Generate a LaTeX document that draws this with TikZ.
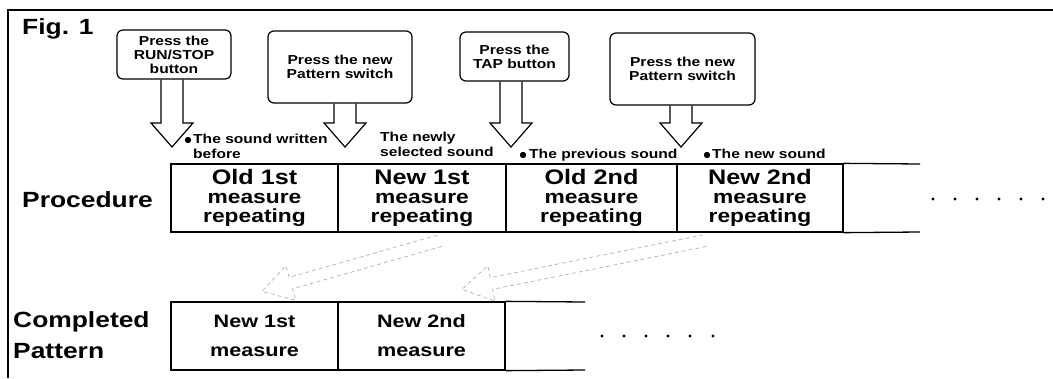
\documentclass[tikz,border=0pt]{standalone}
\usepackage{fontspec}
\setmainfont{Liberation Sans}[FakeStretch=1.2]
\usetikzlibrary{calc}
\tikzset{
  ln/.style={line width=1.3pt},
  pbox/.style={draw, line width=1.2pt, rounded corners=6pt, align=center, inner sep=0pt, font=\bfseries\fontsize{13}{14}\selectfont},
  blk/.style={draw, line width=1.2pt, line join=miter},
  cell/.style={draw, line width=1.3pt, inner sep=0pt, align=center, font=\bfseries\fontsize{19}{19}\selectfont, minimum height=68pt},
  ccell/.style={cell, font=\bfseries\fontsize{18}{29}\selectfont},
  lbl/.style={inner sep=0pt, align=left, anchor=north west, font=\bfseries\fontsize{13}{15}\selectfont},
  head/.style={inner sep=0pt, anchor=west, align=left, font=\bfseries\fontsize{22}{31}\selectfont},
  faint/.style={draw=black!30, line width=0.7pt, dash pattern=on 4pt off 3pt},
}
\newcommand\blkarrow[3]{%
  \coordinate (t#3) at ($(#1.south)+(#2,0)$);
  \coordinate (h#3) at (t#3 |- 0,123);
  \coordinate (p#3) at (t#3 |- 0,147);
  \draw[blk] ([xshift=-11pt]t#3) -- ([xshift=-11pt]h#3) -- ([xshift=-21pt]h#3) -- (p#3) -- ([xshift=21pt]h#3) -- ([xshift=11pt]h#3) -- ([xshift=11pt]t#3);
}
\newcommand\hollowarr[2]{%
  \coordinate (hb) at ($(#2)!30pt!(#1)$);
  \draw[faint] ($(#1)!6pt!90:(#2)$) -- ($(hb)!6pt!90:(#2)$) -- ($(hb)!18pt!90:(#2)$) -- (#2) -- ($(hb)!18pt!-90:(#2)$) -- ($(hb)!6pt!-90:(#2)$) -- ($(#1)!6pt!-90:(#2)$);
}
\begin{document}
\begin{tikzpicture}[x=1pt,y=-1pt]
\useasboundingbox (0,0) rectangle (1053,378);
% frame
\draw[ln] (1053,10) -- (8,10) -- (8,378);
\node[head] (fig) at (22,29) {Fig. 1};
% instruction boxes
\node[pbox, minimum width=114pt, minimum height=49pt] (b1) at (174,54.5) {Press the\\RUN/STOP\\button};
\node[pbox, minimum width=144pt, minimum height=72pt] (b2) at (340,67) {Press the new\\Pattern switch};
\node[pbox, minimum width=109pt, minimum height=49pt] (b3) at (514.5,56.5) {Press the\\TAP button};
\node[pbox, minimum width=145pt, minimum height=72pt] (b4) at (682.5,69) {Press the new\\Pattern switch};
\blkarrow{b1}{-2}{1}
\blkarrow{b2}{5}{2}
\blkarrow{b3}{-3.5}{3}
\blkarrow{b4}{-1.5}{4}
% labels
\fill (188,140) circle (3.2pt);
\node[lbl] (l1) at (193,134) {The sound written\\before};
\node[lbl] (l2) at (380,132) {The newly\\selected sound};
\fill (523,155) circle (3.2pt);
\node[lbl] (l3) at (529,149) {The previous sound};
\fill (707,155) circle (3.2pt);
\node[lbl] (l4) at (712,149) {The new sound};
% procedure row
\node[head] (proc) at (22,200) {Procedure};
\node[cell, minimum width=167pt] (c1) at (254.5,198) {{\fontsize{21}{19}\selectfont Old 1st}\\measure\\repeating};
\node[cell, minimum width=168pt] (c2) at (422,198) {{\fontsize{21}{19}\selectfont New 1st}\\measure\\repeating};
\node[cell, minimum width=171pt] (c3) at (591.5,198) {{\fontsize{21}{19}\selectfont Old 2nd}\\measure\\repeating};
\node[cell, minimum width=166pt] (c4) at (760,198) {{\fontsize{21}{19}\selectfont New 2nd}\\measure\\repeating};
\draw[ln] (c4.north east) -- (920,164);
\draw[ln] (c4.south east) -- (920,232);
\foreach \x in {933,955,977,999,1021,1043} \fill (\x,199) circle (1.6pt);
% completed row
\node[head] (comp) at (13,335) {Completed\\Pattern};
\node[ccell, minimum width=167pt] (d1) at (254.5,336) {New 1st\\measure};
\node[ccell, minimum width=167pt] (d2) at (421.5,336) {New 2nd\\measure};
\draw[ln] (d2.north east) -- (585,302);
\draw[ln] (d2.south east) -- (585,370);
\foreach \x in {602,624,646,668,690,713} \fill (\x,336) circle (1.6pt);
% faint transfer arrows
\coordinate (fa1s) at ($(c2.south)+(18,8)$);
\coordinate (fa1t) at ($(d1.north)+(7.5,-10)$);
\coordinate (fb1s) at ($(c4.south)+(-55,8)$);
\coordinate (fb1t) at ($(d2.north)+(40.5,-12)$);
\hollowarr{fa1s}{fa1t}
\hollowarr{fb1s}{fb1t}
\end{tikzpicture}
\end{document}
